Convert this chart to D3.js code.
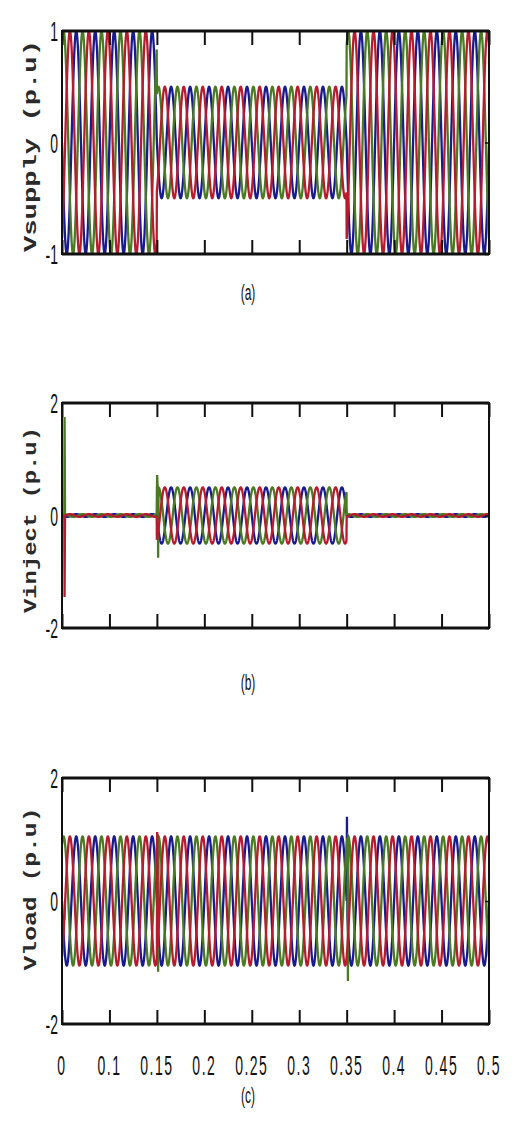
<!DOCTYPE html>
<html lang="en">
<head>
<meta charset="UTF-8" />
<title>Vsupply / Vinject / Vload</title>
<script src="https://cdn.jsdelivr.net/npm/d3@7"></script>
<style>
  body { margin: 0; padding: 0; background: #fff; }
  svg { display: block; }
  .ylab { font-family: "Liberation Mono", "DejaVu Sans Mono", monospace; font-weight: bold; fill: #2a2a2a; }
  .num { font-family: "Liberation Sans", Arial, sans-serif; fill: #111; }
</style>
</head>
<body>
<svg id="chart" width="516" height="1122"></svg>
<script>
// time axis (s) and the labels printed under it
const xTicks = [0.05, 0.1, 0.15, 0.2, 0.25, 0.3, 0.35, 0.4, 0.45, 0.5];
const xTickLabels = ["0", "0.1", "0.15", "0.2", "0.25", "0.3", "0.35", "0.4", "0.45", "0.5"];

// three phase system
const freq = 50;
const phaseAngles = [0, -120, 120];
const phaseColors = ["#1a1a90", "#4a7a22", "#b81a2e"];

// sag from 0.15 s to 0.35 s
const segmentBreaks = [0.05, 0.15, 0.35, 0.5];
const supplyAmp = [1, 0.5, 1];
const injectAmp = [0.025, 0.5, 0.025];
const loadAmp = [1.05, 1.05, 1.05];

// transients: [time, phase, peak]
const supplySpikes = [];
const injectSpikes = [[0.0524, 1, 1.75], [0.0524, 2, -1.45], [0.15, 1, 0.72], [0.151, 1, -0.75]];
const loadSpikes = [[0.0524, 2, -0.3], [0.15, 2, 1.12], [0.151, 1, -1.15], [0.35, 0, 1.37], [0.351, 1, -1.3]];

const yTicksSupply = [-1, 0, 1];
const yTicksWide = [-2, 0, 2];

const panels = [
  { name: "Vsupply (p.u)", amp: supplyAmp, spikes: supplySpikes, yDomain: [-1, 1], yTicks: yTicksSupply,
    top: 31, bottom: 254, labLen: 212, labY: 146, caption: "(a)", capY: 300 },
  { name: "Vinject (p.u)", amp: injectAmp, spikes: injectSpikes, yDomain: [-2, 2], yTicks: yTicksWide,
    top: 403, bottom: 628, labLen: 186, labY: 520, caption: "(b)", capY: 690 },
  { name: "Vload (p.u)", amp: loadAmp, spikes: loadSpikes, yDomain: [-2, 2], yTicks: yTicksWide,
    top: 778, bottom: 1024, labLen: 163, labY: 889, caption: "(c)", capY: 1103 }
];

const left = 62, right = 489;
const svg = d3.select("#chart");
const x = d3.scaleLinear().domain([xTicks[0], xTicks[xTicks.length - 1]]).range([left, right]);
const step = 0.0002;

function ampAt(amp, t) {
  for (let i = 0; i < amp.length; i++) {
    if (t < segmentBreaks[i + 1]) return amp[i];
  }
  return amp[amp.length - 1];
}

function phaseSeries(amp, spikes, p) {
  const val = (t) => ampAt(amp, t) * Math.sin(2 * Math.PI * freq * t + phaseAngles[p] * Math.PI / 180);
  let pts = d3.range(x.domain()[0], x.domain()[1] + step / 2, step).map((t) => ({ t: t, v: val(t) }));
  spikes.filter((s) => s[1] === p).forEach((s) => {
    const t0 = s[0];
    pts = pts.filter((d) => d.t <= t0 || d.t >= t0 + 0.0008);
    pts.push({ t: t0, v: val(t0) }, { t: t0 + 0.0003, v: s[2] }, { t: t0 + 0.0008, v: val(t0 + 0.0008) });
  });
  return pts.sort((a, b) => a.t - b.t);
}

panels.forEach((pn, i) => {
  const y = d3.scaleLinear().domain(pn.yDomain).range([pn.bottom, pn.top]);
  const g = svg.append("g");

  g.append("clipPath").attr("id", "clip" + i)
    .append("rect").attr("x", left).attr("y", pn.top).attr("width", right - left).attr("height", pn.bottom - pn.top);

  const line = d3.line().x((d) => x(d.t)).y((d) => y(d.v));
  const lines = g.append("g").attr("clip-path", "url(#clip" + i + ")");
  phaseAngles.forEach((a, p) => {
    lines.append("path")
      .datum(phaseSeries(pn.amp, pn.spikes, p))
      .attr("d", line)
      .attr("fill", "none")
      .attr("stroke", phaseColors[p])
      .attr("stroke-width", 2.3);
  });

  // inward ticks top and bottom
  g.append("g").attr("transform", "translate(0," + pn.bottom + ")")
    .call(d3.axisBottom(x).tickValues(xTicks).tickSizeInner(-14).tickSizeOuter(0).tickFormat(""))
    .call((s) => s.select(".domain").remove())
    .call((s) => s.selectAll("line").attr("stroke", "#111").attr("stroke-width", 2));
  g.append("g").attr("transform", "translate(0," + pn.top + ")")
    .call(d3.axisTop(x).tickValues(xTicks).tickSizeInner(-14).tickSizeOuter(0).tickFormat(""))
    .call((s) => s.select(".domain").remove())
    .call((s) => s.selectAll("line").attr("stroke", "#111").attr("stroke-width", 2));
  g.append("g").attr("transform", "translate(" + right + ",0)")
    .call(d3.axisRight(y).tickValues(pn.yTicks).tickSizeInner(-4).tickSizeOuter(0).tickFormat(""))
    .call((s) => s.select(".domain").remove())
    .call((s) => s.selectAll("line").attr("stroke", "#111").attr("stroke-width", 1.5));

  // frame
  g.append("rect").attr("x", left).attr("y", pn.top).attr("width", right - left).attr("height", pn.bottom - pn.top)
    .attr("fill", "none").attr("stroke", "#111").attr("stroke-width", 2);
  g.append("line").attr("x1", left).attr("x2", right).attr("y1", pn.top).attr("y2", pn.top)
    .attr("stroke", "#111").attr("stroke-width", 3);
  g.append("line").attr("x1", left).attr("x2", right).attr("y1", pn.bottom).attr("y2", pn.bottom)
    .attr("stroke", "#111").attr("stroke-width", 3);

  // y tick labels (tall, narrow glyphs)
  g.selectAll("text.ytick").data(pn.yTicks).enter().append("text")
    .attr("class", "num ytick")
    .attr("transform", (d) => "translate(" + (left - 4) + "," + (y(d) + 10) + ") scale(1,2)")
    .attr("text-anchor", "end")
    .attr("font-size", 14)
    .text((d) => d);

  // y axis title
  g.append("text")
    .attr("class", "ylab")
    .attr("transform", "translate(36," + pn.labY + ") rotate(-90)")
    .attr("text-anchor", "middle")
    .attr("font-size", 19)
    .attr("textLength", pn.labLen)
    .attr("lengthAdjust", "spacingAndGlyphs")
    .text(pn.name);

  // caption
  g.append("text")
    .attr("class", "num")
    .attr("transform", "translate(248," + pn.capY + ") scale(1,1.9)")
    .attr("text-anchor", "middle")
    .attr("font-size", 12)
    .text(pn.caption);

  if (i === panels.length - 1) {
    g.selectAll("text.xtick").data(xTicks).enter().append("text")
      .attr("class", "num xtick")
      .attr("transform", (d) => "translate(" + x(d) + "," + (pn.bottom + 51) + ") scale(1,2)")
      .attr("text-anchor", "middle")
      .attr("font-size", 14)
      .attr("letter-spacing", 1.5)
      .text((d, k) => xTickLabels[k]);
  }
});
</script>
</body>
</html>
